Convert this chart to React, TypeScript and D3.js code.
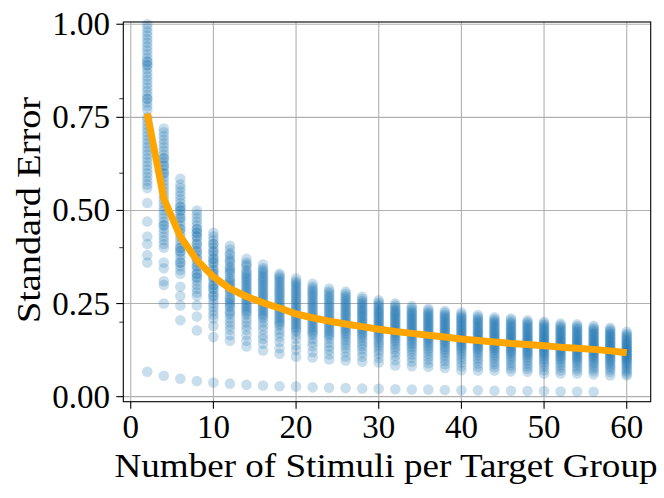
import React, { useEffect, useRef } from 'react';
import * as d3 from 'd3';

// number of stimuli per target group (x positions of the columns)
const stimuliCounts = [2, 4, 6, 8, 10, 12, 14, 16, 18, 20, 22, 24, 26, 28, 30, 32, 34, 36, 38, 40, 42, 44, 46, 48, 50, 52, 54, 56, 58, 60];

// simulated standard errors, one list per column
const se2 = [1.0, 0.99, 0.98, 0.97, 0.96, 0.95, 0.94, 0.93, 0.92, 0.91, 0.9, 0.9, 0.89, 0.89, 0.88, 0.87, 0.86, 0.85, 0.84, 0.83, 0.82, 0.81, 0.8, 0.8, 0.79, 0.78, 0.77, 0.75, 0.74, 0.73, 0.72, 0.71, 0.7, 0.69, 0.68, 0.67, 0.66, 0.65, 0.64, 0.63, 0.62, 0.61, 0.6, 0.59, 0.58, 0.57, 0.56, 0.52, 0.47, 0.43, 0.41, 0.38, 0.36];
const se4 = [0.72, 0.71, 0.7, 0.69, 0.68, 0.67, 0.66, 0.65, 0.64, 0.64, 0.63, 0.62, 0.62, 0.61, 0.6, 0.6, 0.59, 0.58, 0.57, 0.56, 0.55, 0.54, 0.53, 0.52, 0.51, 0.5, 0.49, 0.48, 0.47, 0.46, 0.46, 0.45, 0.44, 0.43, 0.42, 0.41, 0.4, 0.36, 0.345, 0.31, 0.3, 0.25];
const se6 = [0.585, 0.57, 0.56, 0.55, 0.54, 0.53, 0.52, 0.51, 0.51, 0.5, 0.5, 0.49, 0.48, 0.48, 0.47, 0.46, 0.45, 0.45, 0.44, 0.43, 0.42, 0.41, 0.4, 0.4, 0.39, 0.39, 0.38, 0.37, 0.36, 0.36, 0.35, 0.34, 0.33, 0.295, 0.27, 0.245, 0.205];
const se8 = [0.5, 0.49, 0.48, 0.47, 0.46, 0.45, 0.45, 0.44, 0.44, 0.43, 0.43, 0.42, 0.41, 0.41, 0.4, 0.39, 0.39, 0.38, 0.37, 0.37, 0.36, 0.35, 0.35, 0.34, 0.33, 0.33, 0.32, 0.32, 0.31, 0.3, 0.29, 0.28, 0.27, 0.245, 0.215, 0.178];
const se10 = [0.44, 0.43, 0.42, 0.41, 0.41, 0.4, 0.39, 0.39, 0.38, 0.37, 0.37, 0.36, 0.36, 0.35, 0.34, 0.34, 0.33, 0.33, 0.32, 0.32, 0.31, 0.3, 0.3, 0.29, 0.29, 0.28, 0.27, 0.27, 0.26, 0.25, 0.24, 0.23, 0.22, 0.21, 0.19, 0.16];
const se12 = [0.405, 0.395, 0.385, 0.38, 0.37, 0.365, 0.36, 0.35, 0.345, 0.34, 0.335, 0.33, 0.32, 0.315, 0.31, 0.305, 0.3, 0.295, 0.29, 0.285, 0.28, 0.27, 0.265, 0.26, 0.255, 0.25, 0.245, 0.24, 0.23, 0.225, 0.22, 0.21, 0.2, 0.19, 0.18, 0.165, 0.15];
const se14 = [0.37, 0.36, 0.355, 0.35, 0.34, 0.335, 0.33, 0.325, 0.32, 0.315, 0.31, 0.305, 0.3, 0.295, 0.29, 0.285, 0.28, 0.275, 0.27, 0.265, 0.26, 0.255, 0.25, 0.245, 0.24, 0.235, 0.23, 0.225, 0.22, 0.21, 0.2, 0.19, 0.18, 0.165, 0.15, 0.135];
const se16 = [0.355, 0.345, 0.34, 0.335, 0.33, 0.325, 0.32, 0.315, 0.31, 0.305, 0.3, 0.295, 0.29, 0.285, 0.28, 0.275, 0.27, 0.265, 0.26, 0.255, 0.25, 0.245, 0.24, 0.235, 0.23, 0.225, 0.22, 0.215, 0.21, 0.2, 0.19, 0.18, 0.165, 0.155, 0.142, 0.124];
const se18 = [0.33, 0.325, 0.32, 0.315, 0.31, 0.305, 0.3, 0.295, 0.29, 0.285, 0.28, 0.275, 0.27, 0.265, 0.26, 0.255, 0.25, 0.245, 0.24, 0.235, 0.23, 0.225, 0.22, 0.215, 0.21, 0.205, 0.2, 0.195, 0.19, 0.18, 0.17, 0.16, 0.147, 0.13, 0.115];
const se20 = [0.317, 0.31, 0.305, 0.3, 0.295, 0.29, 0.285, 0.28, 0.275, 0.27, 0.265, 0.26, 0.255, 0.25, 0.245, 0.24, 0.235, 0.23, 0.225, 0.22, 0.215, 0.21, 0.205, 0.2, 0.195, 0.19, 0.185, 0.18, 0.175, 0.165, 0.155, 0.138, 0.125, 0.107];
const se22 = [0.303, 0.295, 0.29, 0.285, 0.28, 0.275, 0.27, 0.265, 0.26, 0.255, 0.25, 0.245, 0.24, 0.235, 0.23, 0.225, 0.22, 0.215, 0.21, 0.205, 0.2, 0.195, 0.19, 0.185, 0.18, 0.175, 0.17, 0.165, 0.155, 0.145, 0.135, 0.12, 0.105];
const se24 = [0.29, 0.283, 0.278, 0.272, 0.267, 0.262, 0.257, 0.252, 0.247, 0.242, 0.237, 0.232, 0.227, 0.222, 0.217, 0.212, 0.207, 0.202, 0.197, 0.192, 0.187, 0.182, 0.177, 0.172, 0.167, 0.162, 0.155, 0.145, 0.135, 0.125, 0.113, 0.1];
const se26 = [0.282, 0.276, 0.27, 0.266, 0.261, 0.256, 0.251, 0.247, 0.242, 0.238, 0.233, 0.228, 0.224, 0.219, 0.215, 0.21, 0.205, 0.2, 0.196, 0.191, 0.186, 0.181, 0.176, 0.171, 0.166, 0.16, 0.153, 0.146, 0.138, 0.13, 0.12, 0.108, 0.097];
const se28 = [0.268, 0.262, 0.257, 0.252, 0.248, 0.243, 0.239, 0.234, 0.23, 0.226, 0.221, 0.217, 0.213, 0.208, 0.204, 0.2, 0.195, 0.191, 0.186, 0.182, 0.177, 0.172, 0.168, 0.163, 0.157, 0.15, 0.143, 0.136, 0.128, 0.118, 0.107, 0.094];
const se30 = [0.259, 0.253, 0.248, 0.243, 0.239, 0.234, 0.23, 0.226, 0.222, 0.218, 0.214, 0.21, 0.205, 0.201, 0.197, 0.193, 0.189, 0.185, 0.181, 0.176, 0.172, 0.167, 0.162, 0.157, 0.151, 0.145, 0.139, 0.132, 0.124, 0.115, 0.104, 0.092];
const se32 = [0.25, 0.245, 0.24, 0.235, 0.231, 0.227, 0.223, 0.219, 0.215, 0.211, 0.207, 0.203, 0.199, 0.195, 0.191, 0.187, 0.183, 0.179, 0.175, 0.171, 0.167, 0.162, 0.157, 0.152, 0.147, 0.141, 0.134, 0.127, 0.119, 0.11, 0.098, 0.084];
const se34 = [0.243, 0.238, 0.233, 0.228, 0.224, 0.22, 0.216, 0.212, 0.208, 0.204, 0.2, 0.196, 0.192, 0.188, 0.184, 0.18, 0.176, 0.172, 0.168, 0.164, 0.16, 0.155, 0.15, 0.145, 0.14, 0.134, 0.128, 0.121, 0.113, 0.104, 0.094, 0.082];
const se36 = [0.236, 0.231, 0.226, 0.222, 0.218, 0.214, 0.21, 0.206, 0.202, 0.198, 0.194, 0.19, 0.186, 0.182, 0.178, 0.174, 0.17, 0.166, 0.162, 0.158, 0.154, 0.15, 0.145, 0.14, 0.135, 0.129, 0.123, 0.116, 0.108, 0.1, 0.09, 0.08];
const se38 = [0.23, 0.225, 0.22, 0.216, 0.212, 0.208, 0.204, 0.2, 0.196, 0.192, 0.188, 0.184, 0.18, 0.176, 0.172, 0.168, 0.164, 0.16, 0.156, 0.152, 0.148, 0.144, 0.139, 0.134, 0.129, 0.124, 0.118, 0.111, 0.104, 0.096, 0.087, 0.077];
const se40 = [0.226, 0.22, 0.215, 0.211, 0.207, 0.203, 0.199, 0.195, 0.191, 0.187, 0.183, 0.179, 0.175, 0.171, 0.167, 0.163, 0.159, 0.155, 0.151, 0.147, 0.143, 0.139, 0.135, 0.13, 0.125, 0.12, 0.114, 0.107, 0.1, 0.092, 0.082, 0.071];
const se42 = [0.219, 0.214, 0.209, 0.205, 0.201, 0.197, 0.193, 0.189, 0.185, 0.181, 0.177, 0.173, 0.17, 0.166, 0.162, 0.158, 0.154, 0.151, 0.147, 0.143, 0.139, 0.135, 0.131, 0.127, 0.122, 0.117, 0.111, 0.104, 0.097, 0.089, 0.08, 0.07];
const se44 = [0.213, 0.208, 0.204, 0.2, 0.196, 0.192, 0.188, 0.184, 0.18, 0.176, 0.172, 0.169, 0.165, 0.161, 0.157, 0.154, 0.15, 0.146, 0.142, 0.139, 0.135, 0.131, 0.127, 0.123, 0.118, 0.113, 0.107, 0.101, 0.094, 0.087, 0.079, 0.07];
const se46 = [0.21, 0.205, 0.2, 0.196, 0.192, 0.188, 0.184, 0.18, 0.176, 0.172, 0.168, 0.165, 0.161, 0.157, 0.154, 0.15, 0.146, 0.143, 0.139, 0.135, 0.131, 0.127, 0.123, 0.119, 0.115, 0.11, 0.104, 0.098, 0.091, 0.084, 0.076, 0.068];
const se48 = [0.205, 0.2, 0.196, 0.192, 0.188, 0.184, 0.18, 0.176, 0.172, 0.168, 0.165, 0.161, 0.157, 0.154, 0.15, 0.147, 0.143, 0.14, 0.136, 0.132, 0.128, 0.124, 0.12, 0.116, 0.112, 0.107, 0.102, 0.096, 0.089, 0.082, 0.075, 0.067];
const se50 = [0.201, 0.196, 0.192, 0.188, 0.184, 0.18, 0.176, 0.172, 0.168, 0.165, 0.161, 0.157, 0.154, 0.15, 0.147, 0.143, 0.14, 0.136, 0.133, 0.129, 0.125, 0.121, 0.117, 0.113, 0.109, 0.104, 0.099, 0.093, 0.087, 0.08, 0.071, 0.062];
const se52 = [0.196, 0.191, 0.187, 0.183, 0.179, 0.175, 0.171, 0.168, 0.164, 0.16, 0.157, 0.153, 0.15, 0.146, 0.143, 0.139, 0.136, 0.132, 0.129, 0.125, 0.122, 0.118, 0.114, 0.11, 0.106, 0.102, 0.097, 0.091, 0.085, 0.078, 0.07, 0.062];
const se54 = [0.194, 0.189, 0.185, 0.181, 0.177, 0.173, 0.169, 0.166, 0.162, 0.158, 0.155, 0.151, 0.148, 0.144, 0.141, 0.137, 0.134, 0.13, 0.127, 0.123, 0.12, 0.116, 0.112, 0.108, 0.104, 0.1, 0.095, 0.09, 0.084, 0.077, 0.07, 0.062];
const se56 = [0.19, 0.185, 0.181, 0.177, 0.173, 0.169, 0.166, 0.162, 0.158, 0.155, 0.151, 0.148, 0.144, 0.141, 0.138, 0.134, 0.131, 0.127, 0.124, 0.12, 0.117, 0.113, 0.109, 0.105, 0.101, 0.097, 0.092, 0.087, 0.081, 0.075, 0.068, 0.06];
const se58 = [0.185, 0.18, 0.176, 0.172, 0.168, 0.165, 0.161, 0.158, 0.154, 0.151, 0.147, 0.144, 0.14, 0.137, 0.134, 0.13, 0.127, 0.124, 0.12, 0.117, 0.113, 0.11, 0.106, 0.102, 0.098, 0.094, 0.089, 0.084, 0.079, 0.073, 0.066, 0.057];
const se60 = [0.174, 0.168, 0.164, 0.16, 0.156, 0.152, 0.149, 0.145, 0.142, 0.139, 0.135, 0.132, 0.129, 0.126, 0.123, 0.12, 0.117, 0.114, 0.111, 0.108, 0.105, 0.102, 0.099, 0.095, 0.091, 0.087, 0.083, 0.078, 0.073, 0.068, 0.062, 0.057];

const columnErrors = [se2, se4, se6, se8, se10, se12, se14, se16, se18, se20, se22, se24, se26, se28, se30, se32, se34, se36, se38, se40, se42, se44, se46, se48, se50, se52, se54, se56, se58, se60];

// the faint row of points near zero (no point at 58 and 60)
const floorCounts = [2, 4, 6, 8, 10, 12, 14, 16, 18, 20, 22, 24, 26, 28, 30, 32, 34, 36, 38, 40, 42, 44, 46, 48, 50, 52, 54, 56];
const floorErrors = [0.067, 0.056, 0.048, 0.042, 0.038, 0.035, 0.032, 0.03, 0.028, 0.027, 0.025, 0.024, 0.023, 0.022, 0.021, 0.02, 0.019, 0.019, 0.018, 0.017, 0.017, 0.016, 0.016, 0.015, 0.015, 0.014, 0.014, 0.013];

// orange curve
const meanErrors = [0.76, 0.532, 0.43, 0.366, 0.322, 0.29, 0.269, 0.252, 0.238, 0.222, 0.212, 0.203, 0.195, 0.188, 0.181, 0.175, 0.17, 0.165, 0.16, 0.155, 0.151, 0.147, 0.143, 0.14, 0.137, 0.133, 0.13, 0.127, 0.123, 0.118];

const xTicks = [0, 10, 20, 30, 40, 50, 60];
const yTicks = [0, 0.25, 0.5, 0.75, 1.0];
const yMinorTicks = [0.2, 0.4, 0.6, 0.8];

export default function App() {
  const svgRef = useRef<SVGSVGElement>(null);

  useEffect(() => {
    if (!svgRef.current) return;
    const svg = d3.select(svgRef.current);
    svg.selectAll('*').remove();

    const left = 123.3, right = 650.7, top = 22, bottom = 401.7;
    const font = '"Liberation Serif", "DejaVu Serif", serif';

    const x = d3.scaleLinear().domain([-0.9, 62.9]).range([left, right]);
    const y = d3.scaleLinear().domain([-0.0135, 1.006]).range([bottom, top]);

    // grid
    const grid = svg.append('g').attr('stroke', '#b0b0b0').attr('stroke-width', 1.1);
    grid.selectAll('.gx').data(xTicks).enter().append('line')
      .attr('x1', d => x(d)).attr('x2', d => x(d)).attr('y1', top).attr('y2', bottom);
    grid.selectAll('.gy').data(yTicks).enter().append('line')
      .attr('x1', left).attr('x2', right).attr('y1', d => y(d)).attr('y2', d => y(d));

    // scatter columns
    const points = stimuliCounts.flatMap((n, i) => columnErrors[i].map(v => ({ n, v })));
    const pts = svg.append('g').attr('fill', '#1f77b4').attr('fill-opacity', 0.24);
    pts.selectAll('circle.col').data(points).enter().append('circle')
      .attr('cx', d => x(d.n)).attr('cy', d => y(d.v)).attr('r', 5.3);
    pts.selectAll('circle.floor').data(floorCounts.map((n, i) => ({ n, v: floorErrors[i] }))).enter().append('circle')
      .attr('cx', d => x(d.n)).attr('cy', d => y(d.v)).attr('r', 5.3);

    // mean curve
    const line = d3.line<number>().x((_, i) => x(stimuliCounts[i])).y(d => y(d));
    svg.append('path').attr('d', line(meanErrors)!)
      .attr('fill', 'none').attr('stroke', '#ffa500').attr('stroke-width', 7).attr('stroke-linejoin', 'round');

    // frame
    svg.append('rect').attr('x', left).attr('y', top).attr('width', right - left).attr('height', bottom - top)
      .attr('fill', 'none').attr('stroke', '#000').attr('stroke-width', 1.1);

    // x ticks
    const xt = svg.append('g');
    xt.selectAll('line').data(xTicks).enter().append('line')
      .attr('x1', d => x(d)).attr('x2', d => x(d)).attr('y1', bottom).attr('y2', bottom + 7)
      .attr('stroke', '#000').attr('stroke-width', 1.1);
    xt.selectAll('text').data(xTicks).enter().append('text')
      .attr('x', d => x(d)).attr('y', 438).attr('text-anchor', 'middle')
      .attr('font-family', font).attr('font-size', 33).text(d => String(d));

    // y ticks
    const yt = svg.append('g');
    yt.selectAll('line.maj').data(yTicks).enter().append('line')
      .attr('x1', left - 7).attr('x2', left).attr('y1', d => y(d)).attr('y2', d => y(d))
      .attr('stroke', '#000').attr('stroke-width', 1.1);
    yt.selectAll('line.min').data(yMinorTicks).enter().append('line')
      .attr('x1', left - 4).attr('x2', left).attr('y1', d => y(d)).attr('y2', d => y(d))
      .attr('stroke', '#000').attr('stroke-width', 0.8);
    yt.selectAll('text').data(yTicks).enter().append('text')
      .attr('x', 110).attr('y', d => y(d) + 11).attr('text-anchor', 'end')
      .attr('font-family', font).attr('font-size', 33).text(d => d3.format('.2f')(d));

    // axis labels
    svg.append('text').attr('x', 386).attr('y', 477).attr('text-anchor', 'middle')
      .attr('font-family', font).attr('font-size', 33)
      .attr('textLength', 543).attr('lengthAdjust', 'spacingAndGlyphs')
      .text('Number of Stimuli per Target Group');
    svg.append('text').attr('transform', 'translate(40,210) rotate(-90)').attr('text-anchor', 'middle')
      .attr('font-family', font).attr('font-size', 33)
      .attr('textLength', 226).attr('lengthAdjust', 'spacingAndGlyphs')
      .text('Standard Error');
  }, []);

  return <svg ref={svgRef} width={664} height={498} style={{ position: 'absolute', left: 0, top: 0, background: '#fff' }} />;
}
